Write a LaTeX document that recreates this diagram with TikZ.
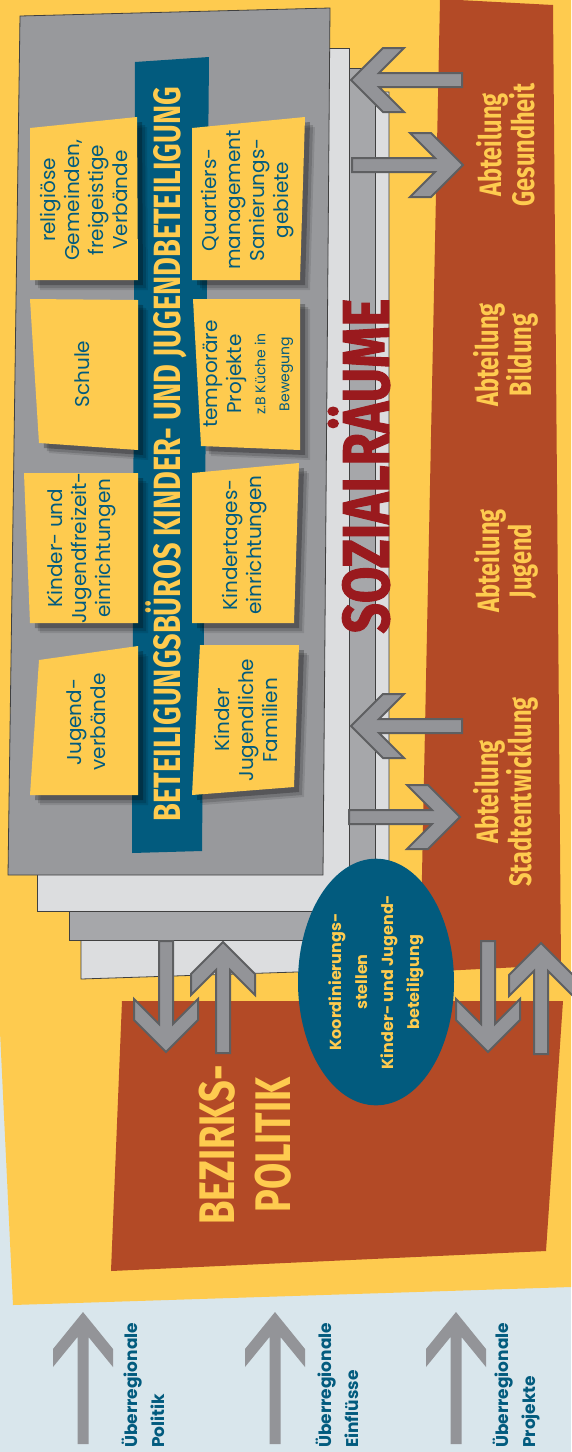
\documentclass[tikz,border=0pt]{standalone}
\usepackage{fontspec}
\setmainfont{Poppins}
\newfontfamily\headfont[FakeStretch=0.76]{Fira Sans}
\newfontfamily\heavyfont[FakeStretch=0.8,FakeBold=1.5]{Fira Sans}
\usetikzlibrary{shapes.geometric,shadows}
\definecolor{BgBlue}{HTML}{D9E6EC}
\definecolor{Sun}{HTML}{FECB4F}
\definecolor{Rust}{HTML}{B34A26}
\definecolor{SheetDark}{HTML}{98999C}
\definecolor{SheetLight}{HTML}{DCDDDF}
\definecolor{SheetMid}{HTML}{A6A7AA}
\definecolor{Petrol}{HTML}{025B7E}
\definecolor{ArrowGray}{HTML}{939498}
\definecolor{ArrowEdge}{HTML}{5E5F61}
\definecolor{Wine}{HTML}{9A1A1E}

\begin{document}
\begin{tikzpicture}[x=1pt,y=-1pt]
\tikzset{SheetStyle/.style = {draw = black!75, line width = 0.8pt},
  PostitStyle/.style = {fill = Sun,
    drop shadow = {shadow xshift = 10pt, shadow yshift = -10pt, fill = black, opacity = .10},
    drop shadow = {shadow xshift = 8pt, shadow yshift = -8pt, fill = black, opacity = .15},
    drop shadow = {shadow xshift = 5pt, shadow yshift = -5pt, fill = black, opacity = .25}},
  PostitText/.style = {rotate = 90, align = center, text = Petrol, font = \fontsize{20}{24}\selectfont},
  HeadText/.style = {rotate = 90, align = center, text = Sun, font = \headfont\bfseries},
  LabelText/.style = {rotate = 90, align = left, anchor = west, inner sep = 0pt, text = Petrol, font = \bfseries\fontsize{17}{27}\selectfont},
  ArrowStyle/.style = {fill = ArrowGray, draw = ArrowEdge, line width = 2pt},
  pics/BigArrow/.style = {code = {\draw[ArrowStyle] (0,7) -- ({#1-28},7) -- ({#1-53},32) -- ({#1-32},32) -- (#1,0) -- ({#1-32},-32) -- ({#1-53},-32) -- ({#1-28},-7) -- (0,-7) -- cycle;}},
  pics/ThinArrow/.style = {code = {\fill[ArrowGray] (0,5.5) -- ({#1-25},5.5) -- ({#1-55},30) -- ({#1-37},30) -- (#1,0) -- ({#1-37},-30) -- ({#1-55},-30) -- ({#1-25},-5.5) -- (0,-5.5) -- cycle;}}}
\useasboundingbox (0,0) rectangle (571,1452);
\fill[BgBlue] (0,0) rectangle (571,1452);
\fill[Sun] (-49,0) -- (571,0) -- (571,1287) -- (13,1305) -- cycle;
% Abteilungen und Bezirk
\fill[Rust] (440,-1) -- (553,5) -- (561,965) -- (420,972) -- cycle;
\fill[Rust] (122,1001) -- (563,1001) -- (546,1251) -- (111,1271) -- cycle;
% Sozialraeume, gestapelt
\filldraw[SheetStyle, fill = SheetLight] (81,92) -- (389,92) -- (389,969) -- (81,979) -- cycle;
\filldraw[SheetStyle, fill = SheetMid] (69,68) -- (375,68) -- (375,940) -- (69,940) -- cycle;
\filldraw[SheetStyle, fill = SheetLight] (37,48) -- (349,48) -- (349,911) -- (37,911) -- cycle;
\filldraw[SheetStyle, fill = SheetDark] (20,16) -- (330,8) -- (323,875) -- (8,875) -- cycle;
\fill[Petrol] (135,62) -- (209,57) -- (202,851) -- (132,853) -- cycle;
\node (buero) [HeadText, font = \headfont\bfseries\fontsize{38}{38}\selectfont] at (166,454) {BETEILIGUNGSBÜROS KINDER- UND JUGENDBETEILIGUNG};
\node (sozial) [HeadText, text = Wine, font = \heavyfont\bfseries\fontsize{66}{66}\selectfont] at (359,466) {SOZIALRÄUME};
% Akteure
\fill[PostitStyle] (30,128) -- (137,117) -- (138,280) -- (30,280) -- cycle;
\fill[PostitStyle] (192,128) -- (305,117) -- (300,280) -- (192,280) -- cycle;
\fill[PostitStyle] (30,299) -- (138,300) -- (138,450) -- (39,443) -- cycle;
\fill[PostitStyle] (193,299) -- (300,299) -- (300,450) -- (201,446) -- cycle;
\fill[PostitStyle] (24,473) -- (138,473) -- (138,623) -- (30,623) -- cycle;
\fill[PostitStyle] (192,473) -- (299,463) -- (294,623) -- (192,623) -- cycle;
\fill[PostitStyle] (39,660) -- (138,646) -- (138,795) -- (30,795) -- cycle;
\fill[PostitStyle] (200,645) -- (299,645) -- (294,787) -- (192,795) -- cycle;
\node (religion) [PostitText] at (84,200) {religiöse\\Gemeinden,\\freigeistige\\Verbände};
\node (quartier) [PostitText] at (248,200) {Quartiers-\\management\\Sanierungs-\\gebiete};
\node (schule) [PostitText] at (82,374) {Schule};
\node (projekte) [PostitText] at (248,374) {temporäre\\Projekte\\{\fontsize{14}{20}\selectfont z.B Küche in}\\{\fontsize{14}{20}\selectfont Bewegung}};
\node (freizeit) [PostitText] at (82,548) {Kinder- und\\Jugendfreizeit-\\einrichtungen};
\node (kita) [PostitText] at (245,545) {Kindertages-\\einrichtungen};
\node (verbaende) [PostitText] at (86,722) {Jugend-\\verbände};
\node (familien) [PostitText] at (246,720) {Kinder\\Jugendliche\\Familien};
% Pfeile
\pic[rotate = 180] at (462,80) {BigArrow=111};
\pic at (352,165) {BigArrow=111};
\pic[rotate = 180] at (462,726) {BigArrow=111};
\pic at (349,817) {BigArrow=111};
\pic[rotate = -90] at (166,941) {BigArrow=111};
\pic[rotate = 90] at (223,1053) {BigArrow=111};
\pic[rotate = -90] at (488,941) {BigArrow=111};
\pic[rotate = 90] at (541,1054) {BigArrow=111};
\node (koord) [ellipse, fill = Petrol, rotate = 90, minimum width = 214pt, minimum height = 156pt, inner sep = 0pt, align = center, text = Sun, font = \bfseries\fontsize{16}{26}\selectfont] at (376,982) {Koordinierungs-\\stellen\\Kinder- und Jugend-\\beteiligung};
\node (gesund) [HeadText, font = \headfont\bfseries\fontsize{31}{32}\selectfont] at (506,145) {Abteilung\\Gesundheit};
\node (bildung) [HeadText, font = \headfont\bfseries\fontsize{31}{32}\selectfont] at (506,355) {Abteilung\\Bildung};
\node (jugend) [HeadText, font = \headfont\bfseries\fontsize{31}{32}\selectfont] at (506,561) {Abteilung\\Jugend};
\node (stadt) [HeadText, font = \headfont\bfseries\fontsize{31}{32}\selectfont] at (506,792) {Abteilung\\Stadtentwicklung};
\node (bezirk) [HeadText, font = \headfont\bfseries\fontsize{50}{56}\selectfont] at (245,1145) {BEZIRKS-\\POLITIK};
% Ueberregional
\pic[rotate = 90] at (83,1444) {ThinArrow=132};
\pic[rotate = 90] at (275,1444) {ThinArrow=132};
\pic[rotate = 90] at (456,1444) {ThinArrow=132};
\node (politik) [LabelText] at (143.5,1448) {Überregionale\\Politik};
\node (einfluss) [LabelText] at (337.5,1448) {Überregionale\\Einflüsse};
\node (projekt) [LabelText] at (516,1448) {Überregionale\\Projekte};
\end{tikzpicture}
\end{document}
